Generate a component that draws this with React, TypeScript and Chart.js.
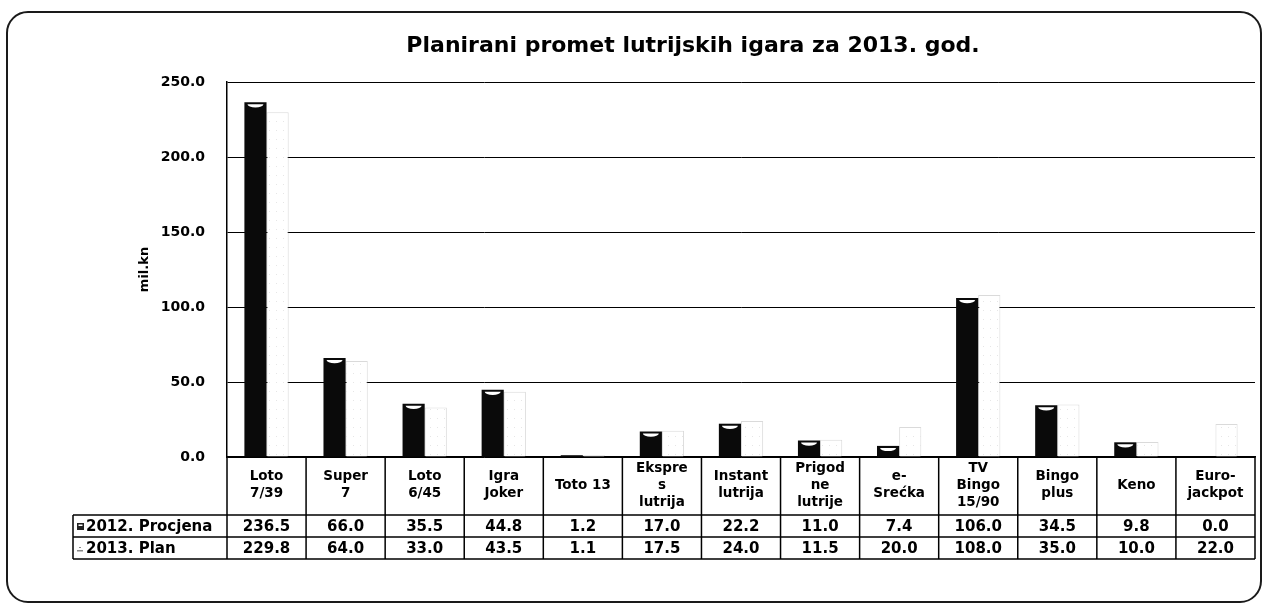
import React, { useEffect, useRef } from "react";
import { Chart, registerables } from "chart.js";

Chart.register(...registerables);

const TITLE = "Planirani promet lutrijskih igara za 2013. god.";
const Y_TITLE = "mil.kn";
const CATEGORIES: string[][] = [
  ["Loto", "7/39"],
  ["Super", "7"],
  ["Loto", "6/45"],
  ["Igra", "Joker"],
  ["Toto 13"],
  ["Ekspre", "s", "lutrija"],
  ["Instant", "lutrija"],
  ["Prigod", "ne", "lutrije"],
  ["e-", "Srećka"],
  ["TV", "Bingo", "15/90"],
  ["Bingo", "plus"],
  ["Keno"],
  ["Euro-", "jackpot"],
];
const SERIES_NAMES = ["2012. Procjena", "2013. Plan"];
const PROCJENA_2012 = [236.5, 66.0, 35.5, 44.8, 1.2, 17.0, 22.2, 11.0, 7.4, 106.0, 34.5, 9.8, 0.0];
const PLAN_2013 = [229.8, 64.0, 33.0, 43.5, 1.1, 17.5, 24.0, 11.5, 20.0, 108.0, 35.0, 10.0, 22.0];
const Y_MIN = 0;
const Y_MAX = 250;
const Y_STEP = 50;

const FONT = '"DejaVu Sans", Verdana, sans-serif';

function makeDotPattern(): CanvasPattern | string {
  const pc = document.createElement("canvas");
  pc.width = 7;
  pc.height = 9;
  const c = pc.getContext("2d");
  if (!c) return "#fff";
  c.fillStyle = "#ffffff";
  c.fillRect(0, 0, 7, 9);
  c.fillStyle = "#e6e6e6";
  c.fillRect(3, 4, 1, 1);
  const p = c.createPattern(pc, "repeat");
  return p || "#fff";
}

const titlePlugin = {
  id: "customTitle",
  afterDraw(chart: any) {
    const { ctx } = chart;
    ctx.save();
    ctx.fillStyle = "#000";
    ctx.font = `bold 22px ${FONT}`;
    ctx.textAlign = "center";
    ctx.textBaseline = "middle";
    ctx.fillText(TITLE, 693, 46);
    ctx.restore();
  },
};

const crescentPlugin = {
  id: "crescent",
  afterDatasetsDraw(chart: any) {
    const { ctx } = chart;
    const meta = chart.getDatasetMeta(0);
    ctx.save();
    ctx.fillStyle = "#ffffff";
    meta.data.forEach((el: any) => {
      const { x, y, base, width } = el.getProps(["x", "y", "base", "width"], true);
      if (base - y < 8) return;
      ctx.beginPath();
      ctx.ellipse(x, y + 2, width * 0.36, 3.2, 0, 0, Math.PI);
      ctx.fill();
    });
    ctx.restore();
  },
};

const tablePlugin = {
  id: "dataTable",
  afterDraw(chart: any) {
    const { ctx, chartArea } = chart;
    const n = CATEGORIES.length;
    const left = chartArea.left;
    const right = chartArea.right;
    const colW = (right - left) / n;
    const top = chartArea.bottom;
    const headH = 58;
    const rowH = 22;
    const legendLeft = 73;
    const r1 = top + headH;
    const r2 = r1 + rowH;
    const r3 = r2 + rowH;

    ctx.save();
    ctx.strokeStyle = "#000";
    ctx.lineWidth = 1.5;
    ctx.beginPath();
    [r1, r2, r3].forEach((yy) => {
      ctx.moveTo(legendLeft, yy);
      ctx.lineTo(right, yy);
    });
    ctx.moveTo(legendLeft, r1);
    ctx.lineTo(legendLeft, r3);
    for (let i = 0; i <= n; i++) {
      const xx = left + i * colW;
      ctx.moveTo(xx, top);
      ctx.lineTo(xx, r3);
    }
    ctx.stroke();

    ctx.fillStyle = "#000";
    ctx.textAlign = "center";
    ctx.textBaseline = "middle";
    ctx.font = `bold 13.5px ${FONT}`;
    const lh = 17;
    CATEGORIES.forEach((lines, i) => {
      const cx = left + (i + 0.5) * colW;
      const cy = top + headH / 2 - 1;
      const start = cy - ((lines.length - 1) * lh) / 2;
      lines.forEach((ln, j) => ctx.fillText(ln, cx, start + j * lh));
    });

    ctx.font = `bold 15px ${FONT}`;
    const rows = [PROCJENA_2012, PLAN_2013];
    rows.forEach((vals, ri) => {
      const cy = r1 + ri * rowH + rowH / 2 + 1;
      vals.forEach((v, i) => {
        const cx = left + (i + 0.5) * colW;
        ctx.fillText(v.toFixed(1), cx, cy);
      });
    });

    // legend column
    ctx.textAlign = "left";
    SERIES_NAMES.forEach((name, ri) => {
      const cy = r1 + ri * rowH + rowH / 2 + 1;
      if (ri === 0) {
        ctx.fillStyle = "#222";
        ctx.fillRect(77, cy - 4, 7, 7);
        ctx.fillStyle = "#fff";
        ctx.fillRect(78.5, cy - 2.5, 4, 1.5);
      } else {
        ctx.fillStyle = "#888";
        ctx.fillRect(77, cy + 1, 6, 1.5);
        ctx.fillRect(79, cy - 2, 2, 1);
      }
      ctx.fillStyle = "#000";
      ctx.font = `bold 15px ${FONT}`;
      ctx.fillText(name, 86, cy);
    });
    ctx.restore();
  },
};

export default function App() {
  const canvasRef = useRef<HTMLCanvasElement | null>(null);

  useEffect(() => {
    const canvas = canvasRef.current;
    if (!canvas) return;
    const pattern = makeDotPattern();
    const chart = new Chart(canvas, {
      type: "bar",
      data: {
        labels: CATEGORIES.map((c) => c.join(" ")),
        datasets: [
          {
            label: SERIES_NAMES[0],
            data: PROCJENA_2012,
            backgroundColor: "#0a0a0a",
            borderWidth: 0,
            barPercentage: 1,
            categoryPercentage: 0.56,
          },
          {
            label: SERIES_NAMES[1],
            data: PLAN_2013,
            backgroundColor: pattern as any,
            borderColor: "rgba(150,150,150,0.35)",
            borderWidth: 1,
            barPercentage: 1,
            categoryPercentage: 0.56,
          },
        ],
      },
      options: {
        animation: false,
        responsive: false,
        maintainAspectRatio: false,
        layout: { padding: { left: 130, right: 10, top: 82, bottom: 150 } },
        plugins: {
          legend: { display: false },
          title: { display: false },
          tooltip: { enabled: false },
        },
        scales: {
          x: {
            grid: { display: false, drawTicks: false },
            border: { display: true, color: "#000", width: 1.5 },
            ticks: { display: false },
          },
          y: {
            min: Y_MIN,
            max: Y_MAX,
            ticks: {
              stepSize: Y_STEP,
              color: "#000",
              font: { family: FONT, weight: "bold", size: 14 },
              padding: 22,
              callback: (v: any) => Number(v).toFixed(1),
            },
            grid: { color: "#000", lineWidth: 1, drawTicks: false },
            border: { color: "#000", width: 1.5 },
            title: {
              display: true,
              text: Y_TITLE,
              color: "#000",
              font: { family: FONT, weight: "bold", size: 13 },
              padding: 7,
            },
            afterFit: (s: any) => {
              s.width = 97;
            },
          },
        },
      },
      plugins: [crescentPlugin, tablePlugin, titlePlugin],
    });
    return () => chart.destroy();
  }, []);

  return (
    <div>
      <div
        style={{
          position: "absolute",
          left: 6,
          top: 11,
          width: 1256,
          height: 592,
          border: "2px solid #1a1a1a",
          borderRadius: 22,
          boxSizing: "border-box",
          background: "#fff",
        }}
      />
      <canvas
        ref={canvasRef}
        width={1265}
        height={607}
        style={{ position: "absolute", left: 0, top: 0, width: 1265, height: 607 }}
      />
    </div>
  );
}
